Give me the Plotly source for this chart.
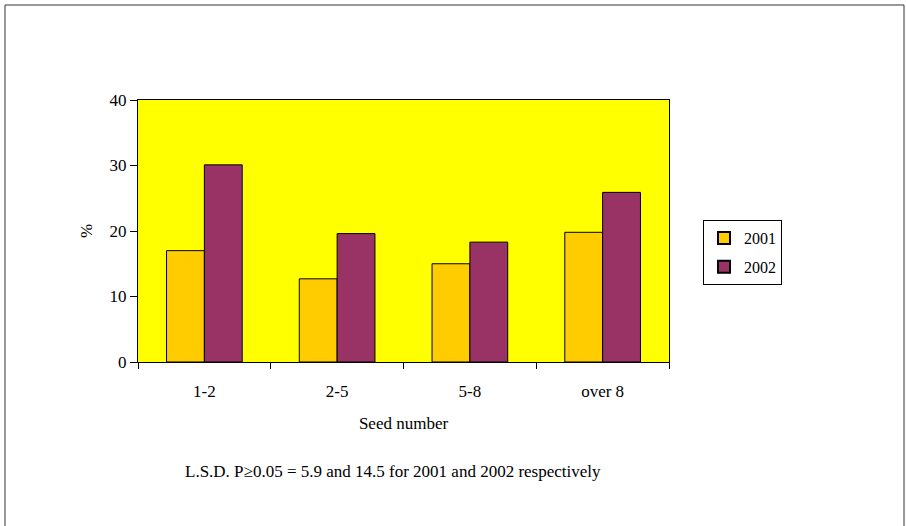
import plotly.graph_objects as go

categories = ["1-2", "2-5", "5-8", "over 8"]
values_2001 = [17.0, 12.7, 15.0, 19.8]
values_2002 = [30.1, 19.6, 18.3, 25.9]
y_ticks = [0, 10, 20, 30, 40]

FONT = "Liberation Serif, Times New Roman, serif"

fig = go.Figure()
fig.add_trace(go.Bar(x=categories, y=values_2001, name="2001", legendgroup="a",
                     marker=dict(color="#FFCC00", line=dict(color="black", width=1))))
fig.add_trace(go.Bar(x=categories, y=values_2002, name="2002", legendgroup="b",
                     marker=dict(color="#993366", line=dict(color="black", width=1))))

L, R, T, B = 138, 669, 100, 362
W, H = 906, 526
pw, ph = R - L, B - T

def px(x):
    return (x - L) / pw

def py(y):
    return (B - y) / ph

fig.update_layout(
    width=W, height=H,
    margin=dict(l=L, r=W - R, t=T, b=H - B, autoexpand=False),
    paper_bgcolor="white", plot_bgcolor="#FFFF00",
    font=dict(family=FONT, size=17, color="black"),
    barmode="group", bargap=0.43, bargroupgap=0,
    showlegend=True,
    legend=dict(x=px(703), y=py(220), xanchor="left", yanchor="top",
                bgcolor="white", bordercolor="black", borderwidth=1,
                font=dict(family=FONT, size=16), itemsizing="constant",
                tracegroupgap=5, itemwidth=30),
    xaxis=dict(showline=True, linecolor="black", linewidth=1, mirror=True,
               ticks="outside", tickson="boundaries", ticklen=6, tickcolor="black",
               ticklabelstandoff=14,
               title=dict(text="Seed number", standoff=16, font=dict(size=17)),
               tickfont=dict(size=17)),
    yaxis=dict(range=[0, 40], tickvals=y_ticks, showline=True, linecolor="black",
               linewidth=1, mirror=True, ticks="outside", ticklen=7, tickcolor="black",
               showgrid=False, zeroline=False,
               title=dict(text="%", standoff=12, font=dict(size=17)),
               tickfont=dict(size=17)),
    annotations=[dict(text="L.S.D. P≥0.05 = 5.9 and 14.5 for 2001 and 2002 respectively",
                      xref="paper", yref="paper", x=px(393), y=py(471),
                      xanchor="center", yanchor="middle", showarrow=False,
                      font=dict(family=FONT, size=17))],
    shapes=[dict(type="rect", xref="paper", yref="paper",
                 x0=px(5), x1=px(904), y0=py(540), y1=py(5),
                 line=dict(color="#333333", width=1), layer="below")],
)

fig.write_html("out.html", config={"displayModeBar": False},
               post_script="document.body.style.margin='0px';document.body.style.overflow='hidden';")
